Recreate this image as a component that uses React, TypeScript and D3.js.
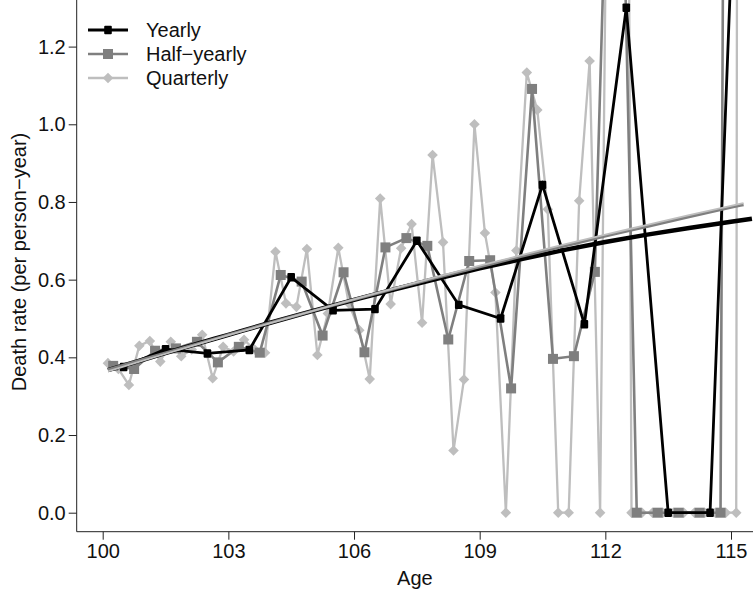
import React, { useEffect, useRef } from "react";
import * as d3 from "d3";

// observed death rates
const yearlyAge = [100.5, 101.5, 102.5, 103.5, 104.5, 105.5, 106.5, 107.5, 108.5, 109.5, 110.5, 111.5, 112.5, 113.5, 114.5, 115.5];
const yearlyRate = [0.375, 0.421, 0.41, 0.419, 0.606, 0.521, 0.524, 0.7, 0.535, 0.5, 0.844, 0.485, 1.3, 0, 0, 2.8];

const halfAge = [100.25, 100.75, 101.25, 101.75, 102.25, 102.75, 103.25, 103.75, 104.25, 104.75, 105.25, 105.75, 106.25, 106.75, 107.25, 107.75,
  108.25, 108.75, 109.25, 109.75, 110.25, 110.75, 111.25, 111.75, 112.25, 112.75, 113.25, 113.75, 114.25, 114.75, 115.25];
const halfRate = [0.378, 0.37, 0.417, 0.423, 0.44, 0.387, 0.427, 0.412, 0.612, 0.595, 0.456, 0.619, 0.413, 0.683, 0.707, 0.687,
  0.446, 0.648, 0.65, 0.32, 1.091, 0.396, 0.403, 0.62, 2.5, 0, 0, 0, 0, 0, 12];

const quarterAge = [100.125, 100.375, 100.625, 100.875, 101.125, 101.375, 101.625, 101.875, 102.125, 102.375, 102.625, 102.875,
  103.125, 103.375, 103.625, 103.875, 104.125, 104.375, 104.625, 104.875, 105.125, 105.375, 105.625, 105.875,
  106.125, 106.375, 106.625, 106.875, 107.125, 107.375, 107.625, 107.875, 108.125, 108.375, 108.625, 108.875,
  109.125, 109.375, 109.625, 109.875, 110.125, 110.375, 110.625, 110.875, 111.125, 111.375, 111.625, 111.875,
  112.125, 112.375, 112.625, 112.875, 113.125, 113.375, 113.625, 113.875, 114.125, 114.375, 114.625, 114.875,
  115.125, 115.375];
const quarterRate = [0.385, 0.37, 0.329, 0.43, 0.442, 0.389, 0.44, 0.403, 0.42, 0.458, 0.346, 0.427,
  0.415, 0.445, 0.42, 0.412, 0.672, 0.539, 0.53, 0.679, 0.406, 0.513, 0.682, 0.539,
  0.47, 0.344, 0.809, 0.537, 0.681, 0.743, 0.489, 0.921, 0.696, 0.16, 0.343, 1.0,
  0.72, 0.567, 0, 0.675, 1.133, 1.037, 0.781, 0, 0, 0.803, 1.163, 0,
  2.7, 6.0, 0, 0, 0, 0, 0, 0, 0, 0, 0, 0,
  0, 20];

// fitted curves
const fitAge = [100.125, 101, 102, 103, 104, 105, 106, 107, 108, 109, 110, 111, 112, 113, 114, 115, 115.5];
const fitYearly = [0.367, 0.395, 0.427, 0.458, 0.489, 0.519, 0.548, 0.576, 0.603, 0.629, 0.653, 0.676, 0.697, 0.716, 0.733, 0.749, 0.757];
const fitAgeShort = [100.125, 101, 102, 103, 104, 105, 106, 107, 108, 109, 110, 111, 112, 113, 114, 115, 115.3];
const fitHalf = [0.368, 0.396, 0.427, 0.458, 0.489, 0.519, 0.549, 0.578, 0.606, 0.633, 0.66, 0.686, 0.712, 0.737, 0.762, 0.786, 0.793];
const fitQuarter = [0.364, 0.393, 0.425, 0.457, 0.488, 0.519, 0.549, 0.579, 0.608, 0.636, 0.663, 0.69, 0.716, 0.741, 0.766, 0.79, 0.797];

const xTicks = [100, 103, 106, 109, 112, 115];
const yTicks = [0, 0.2, 0.4, 0.6, 0.8, 1.0, 1.2];
const legendLabels = ["Yearly", "Half\u2212yearly", "Quarterly"];

const BLACK = "#000000";
const DARK = "#7f7f7f";
const LIGHT = "#bebebe";
const FONT = "'Liberation Sans', Arial, Helvetica, sans-serif";

export default function App() {
  const ref = useRef<SVGSVGElement>(null);

  useEffect(() => {
    const width = 753;
    const height = 589;
    const left = 76.7;
    const bottom = 531.7;

    const svg = d3.select(ref.current);
    svg.selectAll("*").remove();
    svg.attr("width", width).attr("height", height);

    const x = d3.scaleLinear().domain([100, 115]).range([102.7, 731]);
    const y = d3.scaleLinear().domain([0, 1.2]).range([512.7, 46.6]);

    svg.append("clipPath").attr("id", "plotclip")
      .append("rect").attr("x", left).attr("y", 0).attr("width", width - left).attr("height", bottom);

    const plot = svg.append("g").attr("clip-path", "url(#plotclip)");

    const line = d3.line<[number, number]>().x(d => x(d[0])).y(d => y(d[1]));
    const smooth = d3.line<[number, number]>().x(d => x(d[0])).y(d => y(d[1])).curve(d3.curveMonotoneX);

    const zip = (a: number[], b: number[]) => a.map((v, i) => [v, b[i]] as [number, number]);

    // quarterly
    const q = zip(quarterAge, quarterRate);
    plot.append("path").attr("d", line(q)).attr("fill", "none").attr("stroke", LIGHT).attr("stroke-width", 2.3);
    plot.selectAll(".qpt").data(q).enter().append("path")
      .attr("d", d3.symbol(d3.symbolSquare, 56)())
      .attr("transform", d => `translate(${x(d[0])},${y(d[1])}) rotate(45)`)
      .attr("fill", LIGHT);

    // half-yearly
    const h = zip(halfAge, halfRate);
    plot.append("path").attr("d", line(h)).attr("fill", "none").attr("stroke", DARK).attr("stroke-width", 2.6);
    plot.selectAll(".hpt").data(h).enter().append("rect")
      .attr("x", d => x(d[0]) - 5).attr("y", d => y(d[1]) - 5)
      .attr("width", 10).attr("height", 10).attr("fill", DARK);

    // yearly
    const yr = zip(yearlyAge, yearlyRate);
    plot.append("path").attr("d", line(yr)).attr("fill", "none").attr("stroke", BLACK).attr("stroke-width", 2.8);
    plot.selectAll(".ypt").data(yr).enter().append("rect")
      .attr("x", d => x(d[0]) - 3.8).attr("y", d => y(d[1]) - 4.2)
      .attr("width", 7.6).attr("height", 8.4).attr("rx", 1).attr("fill", BLACK);

    // fitted curves
    plot.append("path").attr("d", smooth(zip(fitAge, fitYearly))).attr("fill", "none").attr("stroke", BLACK).attr("stroke-width", 4.5);
    plot.append("path").attr("d", smooth(zip(fitAgeShort, fitHalf))).attr("fill", "none").attr("stroke", DARK).attr("stroke-width", 3);
    plot.append("path").attr("d", smooth(zip(fitAgeShort, fitQuarter))).attr("fill", "none").attr("stroke", LIGHT).attr("stroke-width", 1.8);

    // axes
    svg.append("line").attr("x1", left).attr("x2", left).attr("y1", 0).attr("y2", bottom).attr("stroke", "#222");
    svg.append("line").attr("x1", left).attr("x2", width).attr("y1", bottom).attr("y2", bottom).attr("stroke", "#222");

    const xAxis = svg.append("g").attr("transform", `translate(0,${bottom})`)
      .call(d3.axisBottom(x).tickValues(xTicks).tickSize(8).tickPadding(4).tickFormat(d3.format("d")));
    xAxis.select(".domain").remove();
    xAxis.selectAll("line").attr("stroke", "#222");
    xAxis.selectAll("text").attr("font-size", 20).attr("font-family", FONT).attr("fill", "#111").attr("dy", "0.71em").attr("y", 12);

    const yAxis = svg.append("g").attr("transform", `translate(${left},0)`)
      .call(d3.axisLeft(y).tickValues(yTicks).tickSize(8).tickPadding(3).tickFormat(d3.format(".1f")));
    yAxis.select(".domain").remove();
    yAxis.selectAll("line").attr("stroke", "#222");
    yAxis.selectAll("text").attr("font-size", 20).attr("font-family", FONT).attr("fill", "#111");

    svg.append("text").attr("x", (left + width) / 2).attr("y", 585)
      .attr("text-anchor", "middle").attr("font-size", 20).attr("font-family", FONT).attr("fill", "#111")
      .text("Age");
    svg.append("text").attr("transform", "translate(26,262) rotate(-90)")
      .attr("text-anchor", "middle").attr("font-size", 20).attr("font-family", FONT).attr("fill", "#111")
      .text("Death rate (per person\u2212year)");

    // legend
    const legendRows = [
      { color: BLACK, width: 2.8, kind: "y" },
      { color: DARK, width: 2.6, kind: "h" },
      { color: LIGHT, width: 2.3, kind: "q" },
    ];
    const lg = svg.append("g");
    legendRows.forEach((r, i) => {
      const cy = 30 + i * 24;
      lg.append("line").attr("x1", 88).attr("x2", 128).attr("y1", cy).attr("y2", cy)
        .attr("stroke", r.color).attr("stroke-width", r.width);
      if (r.kind === "y") {
        lg.append("rect").attr("x", 108 - 3.8).attr("y", cy - 4.2).attr("width", 7.6).attr("height", 8.4).attr("rx", 1).attr("fill", r.color);
      } else if (r.kind === "h") {
        lg.append("rect").attr("x", 103).attr("y", cy - 5).attr("width", 10).attr("height", 10).attr("fill", r.color);
      } else {
        lg.append("path").attr("d", d3.symbol(d3.symbolSquare, 56)())
          .attr("transform", `translate(108,${cy}) rotate(45)`).attr("fill", r.color);
      }
      lg.append("text").attr("x", 146).attr("y", cy + 7).attr("font-size", 20).attr("font-family", FONT).attr("fill", "#111")
        .text(legendLabels[i]);
    });
  }, []);

  return (
    <div style={{ position: "absolute", left: 0, top: 0, width: 753, height: 589, background: "#fff" }}>
      <svg ref={ref} style={{ display: "block" }} />
    </div>
  );
}
